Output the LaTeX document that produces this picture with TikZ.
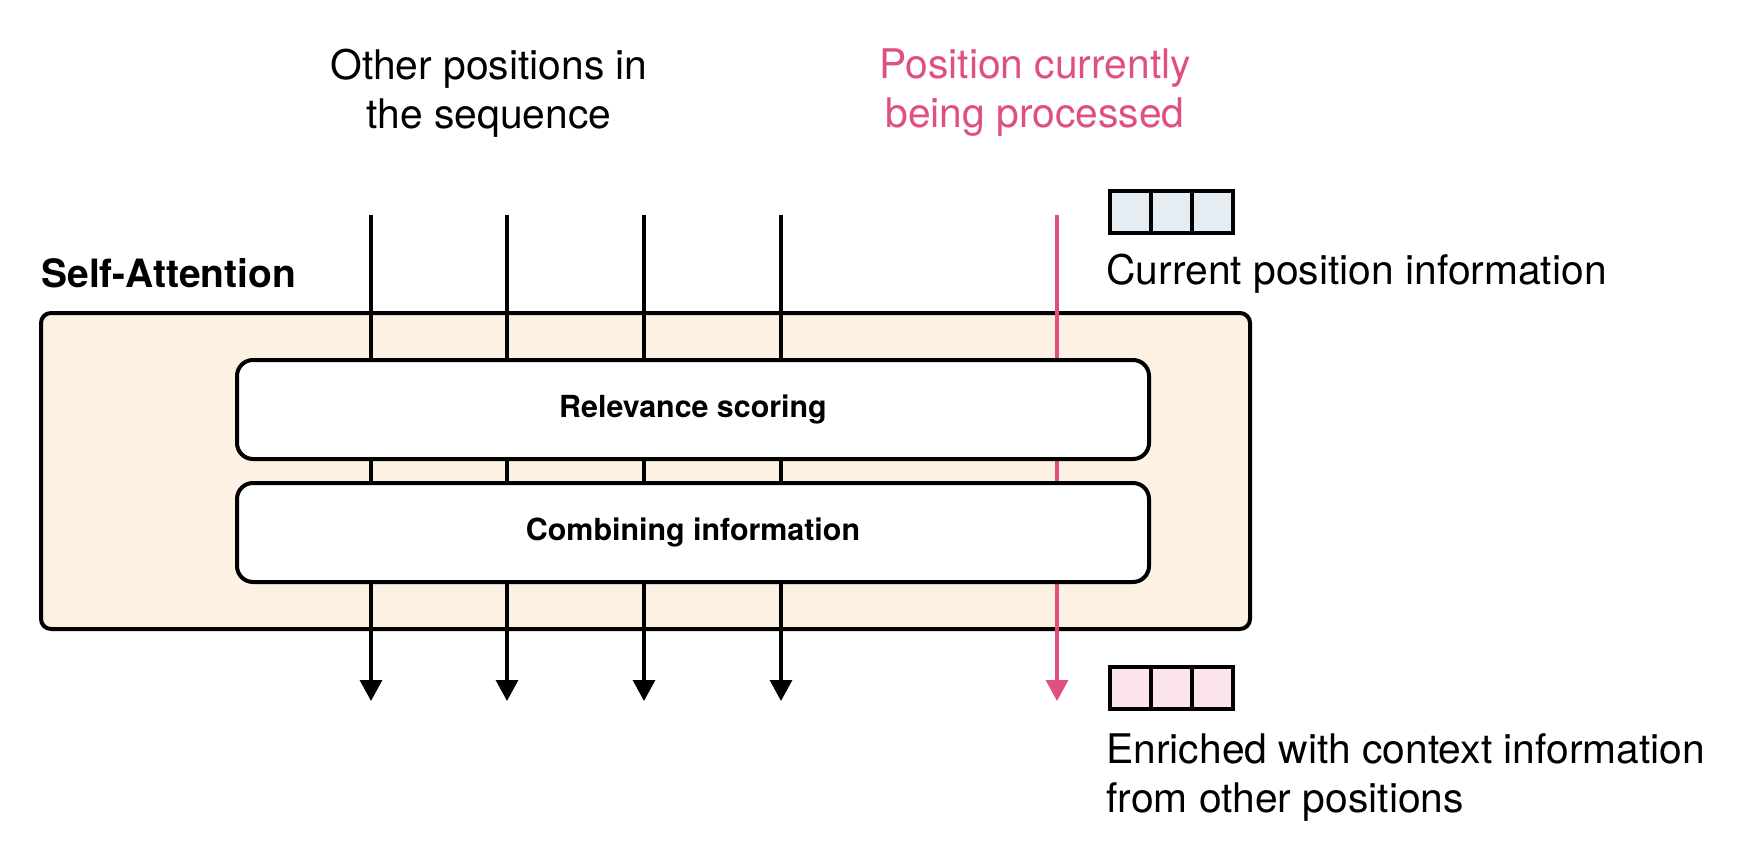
\documentclass[tikz,border=0pt]{standalone}
\usepackage{fontspec}
\setmainfont{TeX Gyre Heros}
\usetikzlibrary{arrows.meta}
\definecolor{hlpink}{HTML}{E0507E}
\definecolor{blockfill}{HTML}{FDF1E3}
\definecolor{cellblue}{HTML}{E5EDF3}
\definecolor{cellpink}{HTML}{FCE4EC}
\tikzset{
  outerblock/.style={draw=black, line width=2pt, fill=blockfill, rounded corners=5pt},
  stagebox/.style={draw=black, line width=2pt, fill=white, rounded corners=8pt,
    minimum width=456pt, minimum height=49.5pt, font=\bfseries\fontsize{15.2}{18}\selectfont},
  flow/.style={line width=1.6pt, -{Triangle[width=11pt,length=10.5pt]}},
  cell/.style={draw=black, line width=2.2pt, minimum width=20.5pt, minimum height=21pt, inner sep=0pt},
  caption/.style={font=\fontsize{20.4}{24.5}\selectfont, align=left, inner sep=0pt},
}
\begin{document}
\begin{tikzpicture}[x=0.5pt,y=-0.5pt]
\useasboundingbox (0,0) rectangle (1755,845);

% headings
\node[caption, align=center] (others) at (489,93) {Other positions in\\the sequence};
\node[caption, align=center, text=hlpink] (current) at (1035,93) {Position currently\\being processed};
\node[anchor=west, inner sep=0pt, font=\bfseries\fontsize{19.5}{23}\selectfont] (title) at (41,273) {Self-Attention};

% self-attention block
\node[outerblock, minimum width=604.5pt, minimum height=158pt, anchor=north west] (block) at (39,311) {};

% flows through the block
\foreach \i/\x in {1/371,2/507,3/644,4/781}{
  \coordinate (in\i) at (\x,215);
  \coordinate (out\i) at (\x,701);
  \draw[flow] (in\i) -- (out\i);
}
\coordinate (inc) at (1057,215);
\coordinate (outc) at (1057,701);
\draw[flow, draw=hlpink, fill=hlpink] (inc) -- (outc);

% processing stages
\node[stagebox, anchor=north west] (score) at (235,358) {Relevance scoring};
\node[stagebox, anchor=north west] (combine) at (235,481) {Combining information};

% vector before
\foreach \j in {0,1,2}{
  \node[cell, fill=cellblue, anchor=north west] (b\j) at (1108+41*\j,189) {};
}
\node[caption, anchor=west] (curinfo) at (1106,274) {Current position information};

% vector after
\foreach \j in {0,1,2}{
  \node[cell, fill=cellpink, anchor=north west] (p\j) at (1108+41*\j,665) {};
}
\node[caption, anchor=north west] (enriched) at (1106,733) {Enriched with context information\\from other positions};
\end{tikzpicture}
\end{document}
